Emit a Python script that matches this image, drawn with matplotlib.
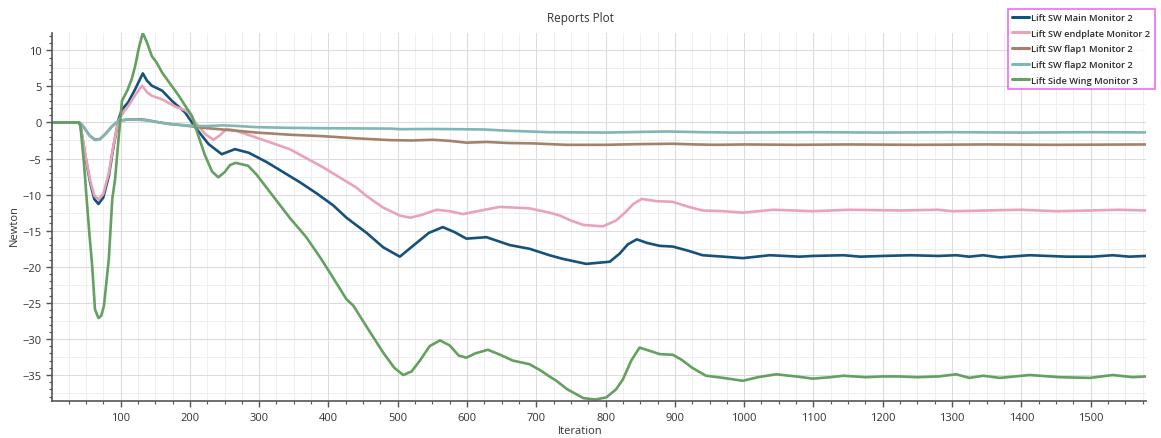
import matplotlib
matplotlib.use("Agg")
import matplotlib.pyplot as plt
from matplotlib.ticker import MultipleLocator
import numpy as np

plt.rcParams["font.family"] = ["Open Sans", "DejaVu Sans"]

# ---- data: (iteration, lift in Newton) for each report monitor ----
main_x = [0, 40, 42, 49, 56, 62, 68, 75, 83, 90, 97, 102, 111, 121, 132, 138, 145,
          160, 174, 193, 208, 227, 246, 265, 285, 311, 335, 359, 384, 407, 426,
          455, 479, 503, 522, 545, 565, 582, 599, 628, 662, 690, 719, 738, 772,
          806, 820, 832, 845, 860, 878, 897, 920, 940, 970, 998, 1037, 1080, 1099,
          1143, 1168, 1200, 1240, 1280, 1306, 1325, 1345, 1369, 1412, 1465, 1503,
          1532, 1556, 1580]
main_y = [0, 0, -0.4, -4.6, -8.3, -10.6, -11.3, -10.4, -7.4, -3.2, 0.45, 1.8, 2.8,
          4.6, 6.8, 5.8, 5.1, 4.4, 3.0, 1.4, -0.7, -3.0, -4.4, -3.7, -4.2, -5.5,
          -6.9, -8.3, -9.9, -11.5, -13.2, -15.3, -17.3, -18.6, -17.1, -15.3, -14.5,
          -15.2, -16.1, -15.9, -17.0, -17.5, -18.4, -18.9, -19.6, -19.3, -18.2,
          -16.9, -16.2, -16.7, -17.1, -17.2, -17.8, -18.4, -18.6, -18.8, -18.4,
          -18.6, -18.5, -18.4, -18.6, -18.5, -18.4, -18.5, -18.4, -18.6, -18.4,
          -18.7, -18.4, -18.6, -18.6, -18.4, -18.6, -18.5]

endplate_x = [0, 40, 42, 49, 56, 62, 68, 75, 83, 90, 97, 104, 112, 121, 131, 138,
              145, 160, 179, 193, 200, 208, 222, 234, 243, 253, 265, 296, 344, 392,
              421, 440, 455, 479, 503, 518, 535, 556, 575, 594, 620, 647, 690, 719,
              734, 750, 768, 796, 815, 828, 840, 852, 873, 897, 920, 940, 970, 998,
              1042, 1099, 1152, 1224, 1280, 1300, 1350, 1400, 1450, 1500, 1540, 1580]
endplate_y = [0, 0, -0.4, -4.4, -8.0, -10.1, -10.7, -9.9, -7.0, -3.0, 0.3, 1.4,
              2.4, 3.8, 5.1, 4.2, 3.7, 3.2, 2.2, 1.7, 1.2, 0.0, -1.6, -2.4, -1.8,
              -0.9, -1.1, -2.1, -3.7, -6.2, -7.9, -9.0, -10.2, -11.8, -12.9, -13.2,
              -12.8, -12.1, -12.3, -12.7, -12.2, -11.7, -11.9, -12.5, -12.9, -13.6,
              -14.2, -14.4, -13.6, -12.5, -11.3, -10.6, -10.9, -11.0, -11.7, -12.2,
              -12.3, -12.5, -12.1, -12.3, -12.1, -12.2, -12.1, -12.3, -12.2, -12.1,
              -12.3, -12.2, -12.1, -12.2]

flap1_x = [0, 40, 44, 48, 55, 63, 70, 78, 88, 97, 110, 130, 140, 150, 170, 200,
           214, 250, 296, 344, 392, 440, 489, 520, 551, 575, 599, 628, 660, 695,
           743, 800, 850, 897, 930, 960, 1000, 1076, 1150, 1250, 1350, 1450, 1580]
flap1_y = [0, 0, -0.3, -0.8, -1.8, -2.35, -2.3, -1.6, -0.5, 0.2, 0.4, 0.45, 0.3,
           0.1, -0.2, -0.5, -0.7, -1.0, -1.4, -1.7, -1.9, -2.2, -2.45, -2.5, -2.4,
           -2.55, -2.8, -2.7, -2.85, -2.9, -3.1, -3.1, -3.0, -2.95, -3.05, -3.1,
           -3.05, -3.1, -3.05, -3.1, -3.05, -3.1, -3.05]

flap2_x = [0, 40, 44, 48, 55, 63, 70, 78, 88, 97, 111, 130, 145, 169, 200, 225,
           248, 270, 296, 344, 392, 489, 503, 551, 623, 660, 719, 800, 888, 940,
           985, 1100, 1200, 1300, 1400, 1500, 1580]
flap2_y = [0, 0, -0.3, -0.8, -1.8, -2.45, -2.35, -1.6, -0.5, 0.2, 0.45, 0.35, 0.2,
           -0.2, -0.45, -0.5, -0.4, -0.5, -0.65, -0.75, -0.8, -0.85, -0.93, -0.9,
           -0.97, -1.15, -1.35, -1.4, -1.25, -1.35, -1.4, -1.35, -1.4, -1.35, -1.4,
           -1.35, -1.38]

wing_x = [0, 40, 42, 47, 51, 55, 59, 63, 68, 72, 76, 83, 88, 92, 97, 102, 110, 116,
          121, 126, 132, 138, 145, 152, 160, 172, 184, 194, 203, 212, 222, 232, 241,
          250, 258, 266, 275, 284, 296, 320, 344, 368, 388, 402, 426, 436, 455, 479,
          495, 508, 520, 532, 546, 561, 575, 588, 599, 612, 630, 648, 666, 690, 705,
          719, 729, 745, 768, 785, 801, 815, 825, 837, 849, 862, 878, 897, 910, 925,
          945, 970, 998, 1020, 1046, 1075, 1099, 1125, 1143, 1175, 1200, 1224, 1250,
          1280, 1306, 1325, 1345, 1369, 1412, 1455, 1499, 1532, 1561, 1580]
wing_y = [0, 0, -0.5, -5.5, -10.6, -15.5, -19.9, -25.9, -27.1, -26.8, -25.4, -18.9,
          -10.6, -7.9, -2.3, 3.0, 4.5, 6.0, 7.8, 10.2, 12.4, 11.1, 9.2, 8.3, 6.9,
          5.3, 3.7, 2.2, 0.9, -1.8, -4.6, -6.8, -7.6, -6.9, -5.9, -5.6, -5.8, -6.0,
          -7.2, -10.2, -13.2, -15.9, -18.7, -20.8, -24.5, -25.4, -28.3, -31.9,
          -34.0, -35.0, -34.5, -33.0, -31.0, -30.2, -30.9, -32.3, -32.6, -32.0,
          -31.5, -32.2, -33.0, -33.5, -34.3, -35.2, -35.8, -37.0, -38.2, -38.4,
          -38.1, -37.0, -35.6, -33.0, -31.2, -31.6, -32.1, -32.2, -32.9, -34.0,
          -35.1, -35.4, -35.8, -35.3, -34.9, -35.2, -35.5, -35.3, -35.1, -35.3,
          -35.2, -35.2, -35.3, -35.2, -34.9, -35.4, -35.1, -35.4, -35.0, -35.3,
          -35.4, -35.0, -35.3, -35.2]

series = [
    ("Lift SW Main Monitor 2", main_x, main_y, "#14517b"),
    ("Lift SW endplate Monitor 2", endplate_x, endplate_y, "#e9a3b7"),
    ("Lift SW flap1 Monitor 2", flap1_x, flap1_y, "#a4826a"),
    ("Lift SW flap2 Monitor 2", flap2_x, flap2_y, "#80b6b6"),
    ("Lift Side Wing Monitor 3", wing_x, wing_y, "#64a05f"),
]

fig = plt.figure(figsize=(11.61, 4.39), dpi=100)
ax = fig.add_axes([0.0448, 0.0843, 0.9423, 0.8383])

for label, xs, ys, color in series:
    ax.plot(xs, ys, color=color, lw=1.9, label=label,
            solid_joinstyle="round", solid_capstyle="round")

ax.set_xlim(1, 1580)
ax.set_ylim(-38.6, 12.4)
ax.xaxis.set_major_locator(MultipleLocator(100))
ax.xaxis.set_minor_locator(MultipleLocator(25))
ax.yaxis.set_major_locator(MultipleLocator(5))
ax.yaxis.set_minor_locator(MultipleLocator(1))

# grid: major lines plus lighter intermediate lines
ax.grid(which="major", color="#dcdcdc", lw=0.8)
for xv in np.arange(25, 1580, 25):
    if xv % 100:
        ax.axvline(xv, color="#eeeeee", lw=0.7, zorder=0)
for yv in np.arange(-37.5, 12.5, 2.5):
    if yv % 5:
        ax.axhline(yv, color="#eeeeee", lw=0.7, zorder=0)
ax.set_axisbelow(True)

for s in ("top", "right"):
    ax.spines[s].set_visible(False)
for s in ("left", "bottom"):
    ax.spines[s].set_color("#555555")
    ax.spines[s].set_linewidth(1.2)

ax.tick_params(which="major", length=4, width=1, color="#555555",
               labelsize=8, labelcolor="#333333")
ax.tick_params(which="minor", length=2.5, width=0.8, color="#555555")
ax.tick_params(axis="x", pad=4)

fig.text(0.5, 0.958, "Reports Plot", ha="center", va="center",
         fontsize=8.5, color="#333333")
fig.text(0.5, 0.016, "Iteration", ha="center", va="center",
         fontsize=8, color="#333333")
fig.text(0.012, 0.487, "Newton", ha="center", va="center", rotation=90,
         fontsize=8, color="#333333")

leg = fig.legend(loc="upper right", bbox_to_anchor=(0.9945, 0.978),
                 prop={"size": 6.7, "weight": "semibold"},
                 frameon=True, fancybox=False,
                 handlelength=1.8, handletextpad=0.3, borderpad=0.45,
                 labelspacing=0.72, borderaxespad=0)
leg.get_frame().set_edgecolor("#ee44ee")
leg.get_frame().set_linewidth(1.2)
for t in leg.get_texts():
    t.set_color("#2a2a2a")
for h in leg.get_lines():
    h.set_linewidth(2.2)

fig.savefig("out.png", dpi=100)
